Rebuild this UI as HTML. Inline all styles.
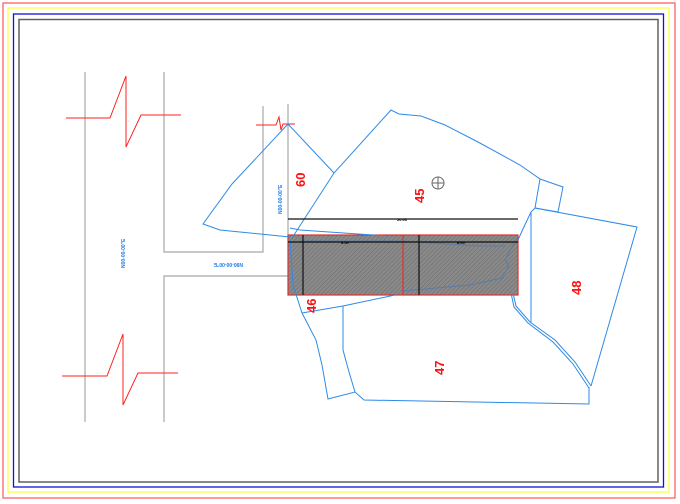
<!DOCTYPE html>
<html><head><meta charset="utf-8"><style>html,body{margin:0;padding:0;background:#fff;width:680px;height:504px;overflow:hidden}</style></head>
<body>
<svg width="680" height="504" viewBox="0 0 680 504" xmlns="http://www.w3.org/2000/svg" font-family="Liberation Sans, sans-serif">
<defs>
<pattern id="h" width="3" height="3" patternUnits="userSpaceOnUse" patternTransform="rotate(45)">
<rect width="3" height="3" fill="#8a8a8a"/><line x1="0" y1="0" x2="0" y2="3" stroke="#6a6a6a" stroke-width="1"/>
</pattern>
</defs>
<rect x="3" y="3" width="672" height="495" fill="none" stroke="#ff6060" stroke-width="1.3"/>
<rect x="8" y="8" width="661" height="484" fill="none" stroke="#ffff40" stroke-width="1.3"/>
<rect x="13.5" y="14" width="650" height="473" fill="none" stroke="#1010e0" stroke-width="1.3"/>
<rect x="19" y="19.5" width="639" height="462.5" fill="none" stroke="#606060" stroke-width="1.5"/>

<g stroke="#a8a8a8" stroke-width="1.2" fill="none">
<line x1="85" y1="72" x2="85" y2="422"/>
<polyline points="164,72 164,252 263,252 263,106"/>
<polyline points="164,422 164,276 288,276"/>
<line x1="288" y1="104" x2="288" y2="235"/>
</g>

<g stroke="#ff2020" stroke-width="1" fill="none">
<polyline points="66,118 110,118 126,76 126,147 141,115 181,115"/>
<polyline points="62,376 107,376 123,334 123,405 138,373 178,373"/>
<polyline points="256,125 276,125 279,117 281,130 283,124 295,124"/>
</g>

<rect x="288" y="235" width="230" height="60" fill="url(#h)" stroke="#e03030" stroke-width="1.2"/>
<line x1="403" y1="235" x2="403" y2="295" stroke="#e03030" stroke-width="1.2"/>

<g stroke="#2e8ae8" stroke-width="1" fill="none">
<polyline points="288,124 232,184 203,224 220,230 290,237"/>
<polyline points="288,124 334,173"/>
<polyline points="292,238 334,173 391,110 399,114 421,116 445,125 478,142 520,165 540,179 535,208 531,212 522,231 518,240"/>
<polyline points="290,228 300,230 388,236"/>
<polyline points="540,179 563,187 558,212 535,208"/>
<polyline points="535,208 637,227 591,386"/>
<polyline points="531,212 531,322"/>
<polyline points="302,313 343,306 395,295"/>
<polyline points="302,313 316,340 322,365 328,399 355,392 364,400 589,404 589,387"/>
<polyline points="343,306 343,350 349,372 355,392"/>
<polyline points="513,293 516,306 530,322 555,340 575,362 591,386"/>
<polyline points="511,293 514,307 528,323 553,342 573,364 589,388"/>
<polyline points="290,240 293,285 302,313"/>
<polyline points="403,291 470,285 502,278 509,265 505,260 513,245 518,240" stroke="#5a7aa8"/>
<polyline points="300,241 400,241 480,246 505,246" stroke="#5a7aa8"/>
</g>

<g stroke="#111" stroke-width="1.2">
<line x1="288" y1="219" x2="518" y2="219"/>
<line x1="288" y1="242" x2="518" y2="242"/>
<line x1="303" y1="235" x2="303" y2="295"/>
<line x1="419" y1="235" x2="419" y2="295"/>
</g>
<g font-size="4" font-weight="bold" fill="#000">
<text x="397" y="221">20.00</text><text x="341" y="244">8.00</text><text x="457" y="244">8.00</text>
</g>

<circle cx="438" cy="183" r="6" fill="none" stroke="#666" stroke-width="1"/>
<line x1="432" y1="183" x2="444" y2="183" stroke="#666"/><line x1="438" y1="177" x2="438" y2="189" stroke="#666"/>

<g fill="#ff1010" font-weight="bold" font-size="13">
<text transform="translate(305,187) rotate(-90)">60</text>
<text transform="translate(424,203) rotate(-90)">45</text>
<text transform="translate(316,313) rotate(-90)">46</text>
<text transform="translate(444,375) rotate(-90)">47</text>
<text transform="translate(581,295) rotate(-90)">48</text>
</g>
<g fill="#1a7ae8" font-weight="bold" font-size="5">
<text transform="translate(125,268) rotate(-90)">N00-00-00"E</text>
<text transform="translate(282,214) rotate(-90)">N00-00-00"E</text>
<text transform="translate(243,263) rotate(180)">N90-00-00"E</text>
</g>
</svg>
</body></html>
